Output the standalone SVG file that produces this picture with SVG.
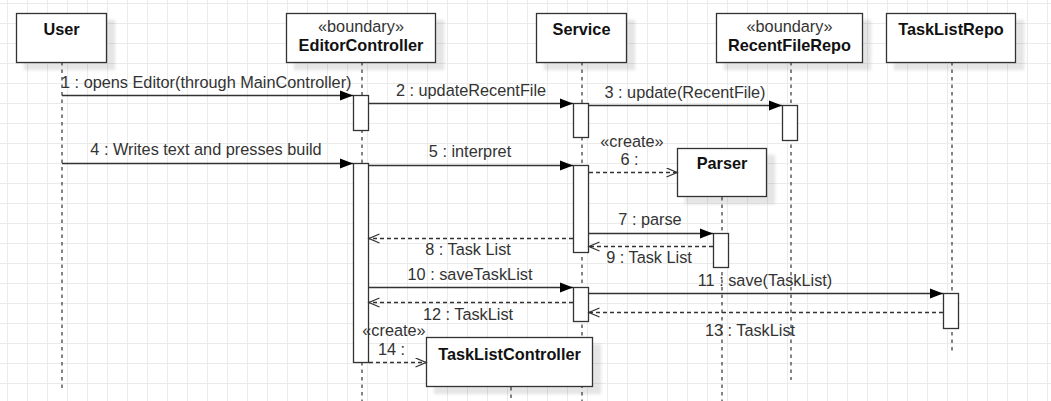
<svg xmlns="http://www.w3.org/2000/svg" width="1051" height="401" viewBox="0 0 1051 401">
<defs>
<pattern id="grid" x="7" y="3" width="20" height="20" patternUnits="userSpaceOnUse">
<path d="M0.5 0V20M0 0.5H20" stroke="#ebebeb" stroke-width="1" fill="none"/>
</pattern>
<filter id="ds" x="-10%" y="-10%" width="130%" height="140%">
<feDropShadow dx="8" dy="7" stdDeviation="1.5" flood-color="#000" flood-opacity="0.1"/>
</filter>
<marker id="block" markerUnits="userSpaceOnUse" markerWidth="14" markerHeight="12" refX="13" refY="5.5" orient="auto">
<path d="M0,0.5 L13,5.5 L0,10.5 z" fill="#000" stroke="none"/>
</marker>
<marker id="open" markerUnits="userSpaceOnUse" markerWidth="14" markerHeight="12" refX="11" refY="5" orient="auto">
<path d="M0.5,0.5 L11,5 L0.5,9.5" fill="none" stroke="#333" stroke-width="1.3" stroke-dasharray="none"/>
</marker>
</defs>
<style>
text{font-family:"Liberation Sans",Arial,sans-serif;font-size:16.3px}
.lbl{fill:#333}
.mid{text-anchor:middle}
.name{font-weight:bold;fill:#111;text-anchor:middle}
.box{fill:#fff;stroke:#333;stroke-width:1.3;filter:url(#ds)}
.life{stroke:#333;stroke-width:1.2;stroke-dasharray:3.5 4;fill:none}
.act{fill:#fff;stroke:#333;stroke-width:1.3}
.msg{stroke:#333;stroke-width:1.3;fill:none;marker-end:url(#block)}
.ret{stroke:#333;stroke-width:1.3;stroke-dasharray:4 3;fill:none;marker-end:url(#open)}
</style>
<rect width="1051" height="401" fill="#fff"/>
<rect width="1051" height="401" fill="url(#grid)"/>

<g id="user">
<line class="life" x1="62" y1="62" x2="62" y2="388"/>
<rect class="box" x="16.5" y="13.5" width="90" height="49"/>
<text class="name" x="61.5" y="34.5">User</text>
</g>

<g id="editorcontroller">
<line class="life" x1="362" y1="62" x2="362" y2="401"/>
<rect class="box" x="286.5" y="13.5" width="149" height="49"/>
<text class="lbl mid" x="361" y="32">«boundary»</text>
<text class="name" x="361" y="50.5">EditorController</text>
<rect class="act" x="353.5" y="95.5" width="15" height="35"/>
<rect class="act" x="353.5" y="163.5" width="15" height="199"/>
</g>

<g id="service">
<line class="life" x1="582" y1="62" x2="582" y2="401"/>
<rect class="box" x="536.5" y="13.5" width="90" height="49"/>
<text class="name" x="581.5" y="34.5">Service</text>
<rect class="act" x="573.5" y="103.5" width="15" height="34"/>
<rect class="act" x="573.5" y="165.5" width="15" height="87"/>
<rect class="act" x="573.5" y="287.5" width="15" height="34"/>
</g>

<g id="recentfilerepo">
<line class="life" x1="791" y1="62" x2="791" y2="380"/>
<rect class="box" x="716.5" y="13.5" width="146" height="49"/>
<text class="lbl mid" x="789.5" y="32">«boundary»</text>
<text class="name" x="789.5" y="50.5">RecentFileRepo</text>
<rect class="act" x="782.5" y="105.5" width="15" height="35"/>
</g>

<g id="tasklistrepo">
<line class="life" x1="952" y1="62" x2="952" y2="352"/>
<rect class="box" x="886.5" y="13.5" width="129" height="49"/>
<text class="name" x="951" y="34.5">TaskListRepo</text>
<rect class="act" x="943.5" y="293.5" width="15" height="35"/>
</g>

<g id="parser">
<line class="life" x1="722" y1="197" x2="722" y2="401"/>
<rect class="box" x="677.5" y="148.5" width="89" height="48"/>
<text class="name" x="722" y="169">Parser</text>
<rect class="act" x="713.5" y="233.5" width="15" height="34"/>
</g>

<g id="tasklistcontroller">
<line class="life" x1="511" y1="387" x2="511" y2="401"/>
<rect class="box" x="426.5" y="337.5" width="166" height="49"/>
<text class="name" x="509.5" y="360">TaskListController</text>
</g>

<g id="connectors">
<line class="msg" x1="62" y1="95.5" x2="353" y2="95.5"/>
<line class="msg" x1="369" y1="103.5" x2="573" y2="103.5"/>
<line class="msg" x1="589" y1="105.5" x2="782" y2="105.5"/>
<line class="msg" x1="62" y1="163.5" x2="353" y2="163.5"/>
<line class="msg" x1="369" y1="165.5" x2="573" y2="165.5"/>
<line class="ret" x1="589" y1="172.5" x2="677" y2="172.5"/>
<line class="msg" x1="589" y1="233.5" x2="713" y2="233.5"/>
<line class="ret" x1="573" y1="238.5" x2="369" y2="238.5"/>
<line class="ret" x1="713" y1="246.5" x2="589" y2="246.5"/>
<line class="msg" x1="369" y1="287.5" x2="573" y2="287.5"/>
<line class="msg" x1="589" y1="293.5" x2="943" y2="293.5"/>
<line class="ret" x1="573" y1="302.5" x2="369" y2="302.5"/>
<line class="ret" x1="943" y1="312.5" x2="589" y2="312.5"/>
<line class="ret" x1="369" y1="362.5" x2="426" y2="362.5"/>

<text class="lbl" x="61" y="87.5">1 : opens Editor(through MainController)</text>
<text class="lbl mid" x="471" y="95.5">2 : updateRecentFile</text>
<text class="lbl mid" x="685" y="97.5">3 : update(RecentFile)</text>
<text class="lbl mid" x="206" y="154.5">4 : Writes text and presses build</text>
<text class="lbl mid" x="470" y="157">5 : interpret</text>
<text class="lbl mid" x="632" y="146.5">«create»</text>
<text class="lbl mid" x="629.5" y="164.5">6 :</text>
<text class="lbl mid" x="650" y="224.5">7 : parse</text>
<text class="lbl mid" x="468" y="254.5">8 : Task List</text>
<text class="lbl mid" x="649" y="263">9 : Task List</text>
<text class="lbl mid" x="470" y="279.5">10 : saveTaskList</text>
<text class="lbl mid" x="765" y="285.5">11 : save(TaskList)</text>
<text class="lbl mid" x="468" y="319.5">12 : TaskList</text>
<text class="lbl mid" x="750" y="335.5">13 : TaskList</text>
<text class="lbl mid" x="394" y="336">«create»</text>
<text class="lbl mid" x="391.5" y="354.5">14 :</text>
</g>
</svg>
